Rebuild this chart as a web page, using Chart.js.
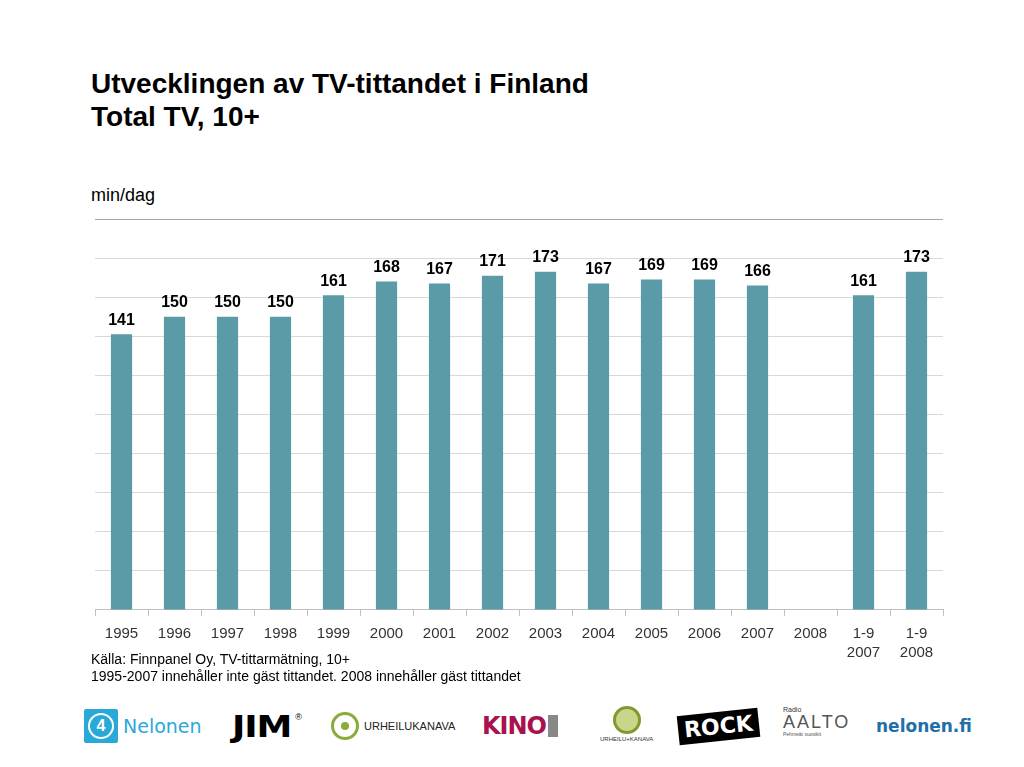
<!DOCTYPE html>
<html>
<head>
<meta charset="utf-8">
<script src="https://cdn.jsdelivr.net/npm/chart.js@4"></script>
<style>
  body { margin: 0; width: 1024px; height: 767px; background: #fff; font-family: "Liberation Sans", Arial, sans-serif; position: relative; overflow: hidden; }
  .title { position: absolute; left: 91px; top: 67px; font-size: 28px; font-weight: bold; line-height: 33px; color: #000; }
  .unit { position: absolute; left: 91px; top: 185px; font-size: 18px; color: #000; }
  .note { position: absolute; left: 91px; top: 651px; font-size: 14px; line-height: 17px; color: #000; }
  #wrap { position: absolute; left: 0; top: 210px; width: 1024px; height: 460px; }
  .logo { position: absolute; top: 706px; height: 40px; display: flex; align-items: center; }
</style>
</head>
<body>
<div class="title">Utvecklingen av TV-tittandet i Finland<br>Total TV, 10+</div>
<div class="unit">min/dag</div>
<div id="wrap"><canvas id="chart"></canvas></div>
<div class="note">Källa: Finnpanel Oy, TV-tittarmätning, 10+<br>1995-2007 innehåller inte gäst tittandet. 2008 innehåller gäst tittandet</div>

<div class="logo" style="left:84px;">
  <div style="width:34px;height:34px;background:#29a9d8;border-radius:2px;display:flex;align-items:center;justify-content:center;">
    <div style="width:22px;height:22px;border:2px solid #fff;border-radius:50%;color:#fff;font-weight:bold;font-size:16px;text-align:center;line-height:22px;">4</div>
  </div>
  <span style="color:#29a9d8;font-size:19px;margin-left:5px;font-family:'DejaVu Sans';">Nelonen</span>
</div>
<div class="logo" style="left:232px;"><span style="font-family:'DejaVu Sans';font-weight:900;font-size:30px;letter-spacing:-1px;color:#000;transform:scaleX(1.2);transform-origin:left;">JIM</span><span style="font-size:9px;align-self:flex-start;margin-top:6px;margin-left:14px;">®</span></div>
<div class="logo" style="left:331px;">
  <div style="width:22px;height:22px;border:3px solid #8aac3c;border-radius:50%;display:flex;align-items:center;justify-content:center;"><div style="width:8px;height:8px;background:#8aac3c;border-radius:50%;"></div></div>
  <span style="font-size:11px;margin-left:5px;color:#222;">URHEILUKANAVA</span>
</div>
<div class="logo" style="left:482px;"><span style="font-family:'DejaVu Sans';font-weight:bold;font-size:24px;color:#a8124f;letter-spacing:-1px;">KINO</span><span style="display:inline-block;width:10px;height:22px;background:#888;margin-left:2px;"></span></div>
<div class="logo" style="left:600px;flex-direction:column;top:706px;">
  <div style="width:22px;height:22px;border:3px solid #7f9a2f;border-radius:50%;background:#c8d68a;"></div>
  <span style="font-size:6px;color:#333;margin-top:2px;">URHEILU+KANAVA</span>
</div>
<div class="logo" style="left:678px;"><div style="background:#000;color:#fff;font-family:'DejaVu Sans';font-weight:900;font-size:22px;padding:2px 6px;transform:rotate(-6deg);">ROCK</div></div>
<div class="logo" style="left:783px;flex-direction:column;align-items:flex-start;top:706px;">
  <span style="font-size:7px;color:#333;">Radio</span>
  <span style="font-size:18px;color:#555;letter-spacing:2px;line-height:18px;">AALTO</span>
  <span style="font-size:5px;color:#555;">Pehmeät suosikit</span>
</div>
<div class="logo" style="left:876px;"><span style="font-family:'DejaVu Sans';font-weight:bold;font-size:17px;color:#1f6fa8;">nelonen.fi</span></div>

<script>
const categories = ["1995", "1996", "1997", "1998", "1999", "2000", "2001", "2002", "2003", "2004", "2005", "2006", "2007", "2008", ["1-9", "2007"], ["1-9", "2008"]];
const minutesPerDay = [141, 150, 150, 150, 161, 168, 167, 171, 173, 167, 169, 169, 166, null, 161, 173];
const yMax = 200;
const yStep = 20;

const valueLabels = {
  id: "valueLabels",
  afterDatasetsDraw(chart) {
    const ctx = chart.ctx;
    const meta = chart.getDatasetMeta(0);
    ctx.save();
    ctx.font = "bold 16px 'Liberation Sans', Arial, sans-serif";
    ctx.fillStyle = "#000";
    ctx.textAlign = "center";
    ctx.textBaseline = "bottom";
    meta.data.forEach((bar, i) => {
      const v = minutesPerDay[i];
      if (v == null) return;
      ctx.fillText(v, bar.x, bar.y - 6);
    });
    ctx.restore();
  },
};

let chart = new Chart(document.getElementById("chart").getContext("2d"), {
  type: "bar",
  data: {
    labels: categories,
    datasets: [
      {
        label: "min/dag",
        data: minutesPerDay,
        backgroundColor: "#5b9aa7",
        categoryPercentage: 1,
        barPercentage: 0.4,
      },
    ],
  },
  options: {
    responsive: true,
    maintainAspectRatio: false,
    animation: false,
    layout: {
      padding: { left: 95, right: 81, top: 9, bottom: 0 },
    },
    scales: {
      x: {
        grid: {
          drawOnChartArea: false,
          drawTicks: true,
          tickLength: 6,
          color: "#bfbfbf",
        },
        border: { color: "#bfbfbf" },
        ticks: {
          color: "#333",
          font: { family: "'Liberation Sans', Arial, sans-serif", size: 15, lineHeight: 1.27 },
          padding: 8,
          maxRotation: 0,
          autoSkip: false,
        },
      },
      y: {
        min: 0,
        max: yMax,
        ticks: { display: false, stepSize: yStep },
        grid: {
          drawTicks: false,
          tickLength: 0,
          color: (c) => (c.tick && c.tick.value === yMax ? "#a6a6a6" : "#d9d9d9"),
        },
        border: { display: false },
      },
    },
    plugins: {
      legend: { display: false },
      tooltip: { enabled: false },
    },
  },
  plugins: [valueLabels],
});
</script>
</body>
</html>
